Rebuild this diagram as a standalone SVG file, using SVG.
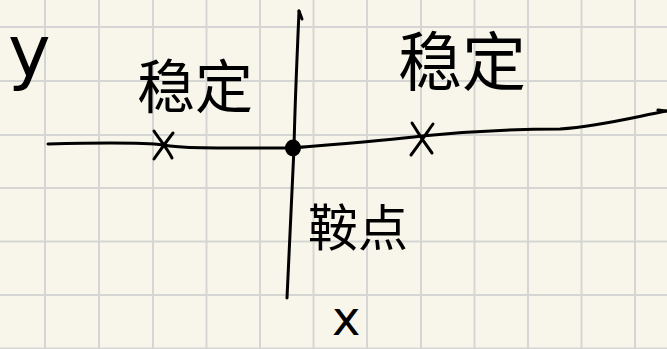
<svg xmlns="http://www.w3.org/2000/svg" width="667" height="349" viewBox="0 0 667 349">
<style>
.grid line{stroke:#d5d5d3;stroke-width:2}
.ink{fill:none;stroke:#000;stroke-width:3;stroke-linecap:round;stroke-linejoin:round}
.hand{font-family:"Noto Sans CJK SC","Noto Sans CJK JP",sans-serif;fill:#000;font-weight:400}
.lat{font-family:"DejaVu Sans","Liberation Sans",sans-serif;fill:#000;font-weight:400}
</style>
<rect width="667" height="349" fill="#f8f6ea"/>
<g class="grid">
<line x1="45" y1="0" x2="45" y2="349"/><line x1="99" y1="0" x2="99" y2="349"/><line x1="153" y1="0" x2="153" y2="349"/><line x1="206.5" y1="0" x2="206.5" y2="349"/><line x1="260" y1="0" x2="260" y2="349"/><line x1="313.5" y1="0" x2="313.5" y2="349"/><line x1="367" y1="0" x2="367" y2="349"/><line x1="421" y1="0" x2="421" y2="349"/><line x1="474.5" y1="0" x2="474.5" y2="349"/><line x1="528" y1="0" x2="528" y2="349"/><line x1="581.5" y1="0" x2="581.5" y2="349"/><line x1="635" y1="0" x2="635" y2="349"/>
<line x1="0" y1="27" x2="667" y2="27"/><line x1="0" y1="81" x2="667" y2="81"/><line x1="0" y1="135" x2="667" y2="135"/><line x1="0" y1="188" x2="667" y2="188"/><line x1="0" y1="241.5" x2="667" y2="241.5"/><line x1="0" y1="295" x2="667" y2="295"/><line x1="0" y1="348.5" x2="667" y2="348.5"/>
</g>
<g id="axes">
<path class="ink" d="M299,11 C297,60 295,100 294,148 C292,200 289,250 287,298" stroke-width="2.4"/>
<path class="ink" d="M299,11 L302,19" stroke-width="2"/>
<path class="ink" d="M48,144 C90,143 140,142 163,145 C185,149 230,148 292,148 C340,144 390,140 422,136 C470,131 520,129 560,129 C600,126 630,118 666,111"/>
<path class="ink" d="M658,110 L666,111" stroke-width="2"/>
</g>
<g id="origin"><ellipse cx="293" cy="148" rx="8" ry="8.5" fill="#000"/></g>
<g id="x-left" class="ink" stroke-width="2.4">
<path d="M154,131 C160,140 168,150 172,158"/><path d="M173,133 C166,142 159,152 154,159"/>
</g>
<g id="x-right" class="ink" stroke-width="2.4">
<path d="M412,123 C418,133 426,145 432,153"/><path d="M433,124 C426,134 418,146 411,155"/>
</g>
<g id="labels">
<text class="hand" x="137" y="108" font-size="58">稳定</text>
<text class="hand" x="398" y="85" font-size="64">稳定</text>
<text class="hand" x="308" y="246" font-size="50">鞍点</text>
<text class="lat" x="8" y="76" font-size="72">y</text>
<text class="lat" x="332" y="335" font-size="48">x</text>
</g>
</svg>
